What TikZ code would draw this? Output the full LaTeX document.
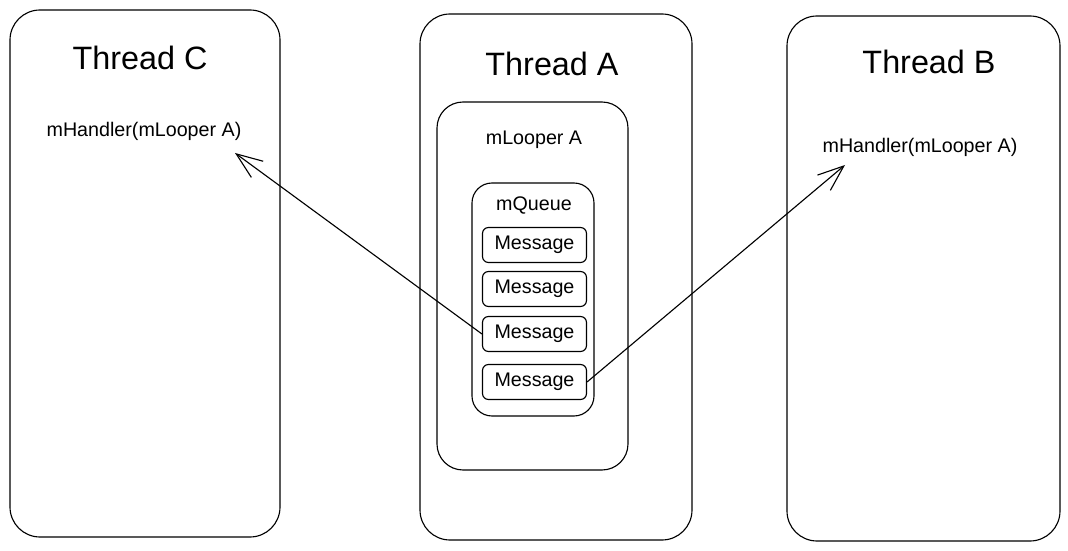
\documentclass[tikz,border=0pt]{standalone}
\usepackage{fontspec}
\setmainfont{Liberation Sans}
\usetikzlibrary{positioning,arrows.meta}
\newcommand{\pxu}{0.025cm}
\tikzset{thread box/.style={draw,line width=0.8pt,rounded corners=30*\pxu,minimum width=272*\pxu,minimum height=526*\pxu,inner sep=0pt},
         looper box/.style={draw,line width=0.8pt,rounded corners=26*\pxu,inner sep=0pt},
         msg box/.style={draw,line width=0.8pt,rounded corners=6*\pxu,minimum width=104*\pxu,minimum height=35*\pxu,inner sep=0pt,font=\fontsize{14}{16}\selectfont},
         title text/.style={font=\fontsize{23}{26}\selectfont},
         label text/.style={font=\fontsize{14}{16}\selectfont},
         send arrow/.style={line width=0.8pt,-{Straight Barb[length=6.5mm,width=5mm]}}}

\begin{document}
\begin{tikzpicture}[x=\pxu,y=-\pxu]
            \useasboundingbox (0,0) rectangle (1068,551);
            % threads
            \node[thread box,minimum width=270*\pxu,minimum height=527*\pxu] (threadC) at (145,273.5) {};
            \node[thread box] (threadA) at (556,277) {};
            \node[thread box,minimum width=273*\pxu,minimum height=525*\pxu] (threadB) at (923.5,278.5) {};
            \node[title text] (titleC) at (140,58) {Thread C};
            \node[title text] (titleA) at (552,64) {Thread A};
            \node[title text] (titleB) at (929,62) {Thread B};
            \node[label text] (handlerC) at (144,131) {mHandler(mLooper A)};
            \node[label text] (handlerB) at (920,147) {mHandler(mLooper A)};

            % looper and queue
            \node[looper box,minimum width=191*\pxu,minimum height=368*\pxu] (looper) at (532.5,286) {};
            \node[label text] (looperlbl) at (534,140) {mLooper A};
            \node[looper box,rounded corners=20*\pxu,minimum width=122*\pxu,minimum height=233*\pxu] (queue) at (533,299.5) {};
            \node[label text] (queuelbl) at (534,205) {mQueue};
            \foreach \y/\n in {245/1,289/2,334/3,382/4}{
                \node[msg box] (msg\n) at (534.5,\y) {Message};
            }

            \coordinate (tipC) at (235,153);
            \coordinate (tipB) at (845,165);
            \draw[send arrow] (msg3.west) -- (tipC);
            \draw[send arrow] (msg4.east) -- (tipB);
        \end{tikzpicture}
\end{document}
